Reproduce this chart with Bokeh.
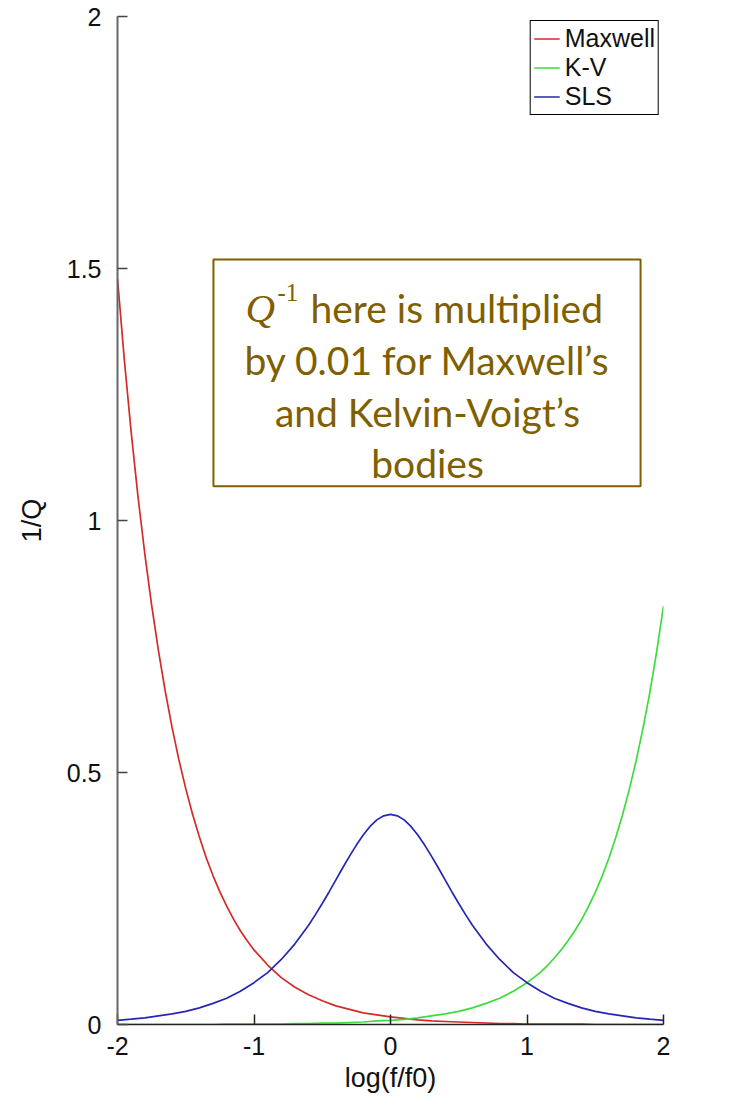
from bokeh.plotting import figure
from bokeh.models import Range1d, FixedTicker, Legend, LegendItem, BoxAnnotation, Label
from bokeh.embed import file_html
from bokeh.resources import INLINE

# ---- data ----
maxwell_x = [-2.0, -1.95, -1.9, -1.85, -1.8, -1.75, -1.7, -1.65, -1.6, -1.55,
             -1.5, -1.45, -1.4, -1.35, -1.3, -1.25, -1.2, -1.15, -1.1, -1.05,
             -1.0, -0.9, -0.8, -0.7, -0.6, -0.5, -0.4, -0.3, -0.2, -0.1,
             0.0, 0.1, 0.2, 0.3, 0.4, 0.5, 0.6, 0.7, 0.8, 0.9,
             1.0, 1.1, 1.2, 1.3, 1.4, 1.5, 1.6, 1.7, 1.8, 1.9, 2.0]
maxwell = [1.480, 1.319, 1.176, 1.048, 0.934, 0.832, 0.742, 0.661, 0.589, 0.525,
           0.468, 0.417, 0.372, 0.331, 0.295, 0.263, 0.235, 0.209, 0.186, 0.166,
           0.148, 0.118, 0.093, 0.074, 0.059, 0.047, 0.037, 0.030, 0.023, 0.019,
           0.015, 0.012, 0.009, 0.007, 0.006, 0.005, 0.004, 0.003, 0.002, 0.002,
           0.001, 0.001, 0.001, 0.001, 0.001, 0.000, 0.000, 0.000, 0.000, 0.000, 0.000]

kv_x = [-2.0, -1.9, -1.8, -1.7, -1.6, -1.5, -1.4, -1.3, -1.2, -1.1,
        -1.0, -0.9, -0.8, -0.7, -0.6, -0.5, -0.4, -0.3, -0.2, -0.1,
        0.0, 0.1, 0.2, 0.3, 0.4, 0.5, 0.6, 0.7, 0.8, 0.9,
        1.0, 1.05, 1.1, 1.15, 1.2, 1.25, 1.3, 1.35, 1.4, 1.45,
        1.5, 1.55, 1.6, 1.65, 1.7, 1.75, 1.8, 1.85, 1.9, 1.95, 2.0]
kelvin_voigt = [0.000, 0.000, 0.000, 0.000, 0.000, 0.000, 0.000, 0.000, 0.001, 0.001,
                0.001, 0.001, 0.001, 0.002, 0.002, 0.003, 0.003, 0.004, 0.005, 0.007,
                0.008, 0.010, 0.013, 0.017, 0.021, 0.026, 0.033, 0.042, 0.052, 0.066,
                0.083, 0.093, 0.104, 0.117, 0.132, 0.148, 0.166, 0.186, 0.208, 0.234,
                0.262, 0.294, 0.330, 0.371, 0.416, 0.467, 0.524, 0.588, 0.659, 0.740, 0.830]

sls_x = [-2.0, -1.9, -1.8, -1.7, -1.6, -1.5, -1.4, -1.3, -1.2, -1.1, -1.0, -0.9, -0.8, -0.7,
         -0.6, -0.55, -0.5, -0.45, -0.4, -0.35, -0.3, -0.25, -0.2, -0.15, -0.1, -0.05,
         0.0, 0.05, 0.1, 0.15, 0.2, 0.25, 0.3, 0.35, 0.4, 0.45, 0.5, 0.55, 0.6,
         0.7, 0.8, 0.9, 1.0, 1.1, 1.2, 1.3, 1.4, 1.5, 1.6, 1.7, 1.8, 1.9, 2.0]
sls = [0.0083, 0.0105, 0.013, 0.017, 0.021, 0.026, 0.033, 0.042, 0.052, 0.066, 0.083, 0.103, 0.129, 0.160,
       0.197, 0.218, 0.240, 0.263, 0.287, 0.311, 0.334, 0.356, 0.376, 0.393, 0.406, 0.414,
       0.417, 0.414, 0.406, 0.393, 0.376, 0.356, 0.334, 0.311, 0.287, 0.263, 0.240, 0.218, 0.197,
       0.160, 0.129, 0.103, 0.083, 0.066, 0.052, 0.042, 0.033, 0.026, 0.021, 0.017, 0.013, 0.0105, 0.0083]

series_names = ["Maxwell", "K-V", "SLS"]
series_colors = ["#d42a2a", "#3ddc3d", "#2626b4"]

x_ticks = [-2, -1, 0, 1, 2]
x_tick_labels = {-2: "-2", -1: "-1", 0: "0", 1: "1", 2: "2"}
y_ticks = [0, 0.5, 1, 1.5, 2]
y_tick_labels = {0: "0", 0.5: "0.5", 1: "1", 1.5: "1.5", 2: "2"}

note_head = ("Q", "-1", "here is multiplied")
note_lines = ["by 0.01 for Maxwell\u2019s", "and Kelvin-Voigt\u2019s", "bodies"]

GOLD = "#7F6000"

p = figure(width=725, height=1100, output_backend="svg", toolbar_location=None,
           x_range=Range1d(-2, 2), y_range=Range1d(0, 2),
           min_border_left=117, min_border_right=62, min_border_top=16, min_border_bottom=76)
p.outline_line_color = None
p.xgrid.visible = False
p.ygrid.visible = False
p.background_fill_color = "white"

renderers = []
for xs, ys, c in zip([maxwell_x, kv_x, sls_x], [maxwell, kelvin_voigt, sls], series_colors):
    renderers.append(p.line(xs, ys, line_color=c, line_width=1.7))

# axes
xa = p.xaxis[0]
xa.ticker = FixedTicker(ticks=x_ticks)
xa.major_label_overrides = x_tick_labels
xa.axis_label = "log(f/f0)"
ya = p.yaxis[0]
ya.ticker = FixedTicker(ticks=y_ticks)
ya.major_label_overrides = y_tick_labels
ya.axis_label = "1/Q"
for ax in (xa, ya):
    ax.major_tick_in = 10
    ax.major_tick_out = 0
    ax.minor_tick_in = 0
    ax.minor_tick_out = 0
    ax.major_label_text_font = "Liberation Sans"
    ax.major_label_text_font_size = "25px"
    ax.major_label_text_color = "#111111"
    ax.axis_label_text_font = "Liberation Sans"
    ax.axis_label_text_font_size = "27px"
    ax.axis_label_text_font_style = "normal"
    ax.axis_label_text_color = "#111111"
xa.axis_line_color = "#222222"
xa.axis_line_width = 1.5
xa.major_tick_line_color = "#222222"
xa.major_tick_line_width = 1.5
xa.major_label_standoff = 12
xa.axis_label_standoff = 5
ya.axis_line_color = "#666666"
ya.axis_line_width = 2
ya.major_tick_line_color = "#444444"
ya.major_tick_line_width = 1.5
ya.major_label_standoff = 16
ya.axis_label_standoff = 17

# legend
legend = Legend(items=[LegendItem(label=n, renderers=[r]) for n, r in zip(series_names, renderers)],
                location="top_right")
legend.label_text_font = "Liberation Sans"
legend.label_text_font_size = "25px"
legend.label_text_color = "#111111"
legend.glyph_width = 26
legend.glyph_height = 29
legend.label_height = 29
legend.label_text_line_height = 1.0
legend.spacing = 0
legend.padding = 3
legend.margin = 4
legend.label_standoff = 5
legend.border_line_color = "black"
legend.border_line_width = 1
legend.border_line_alpha = 1
legend.background_fill_color = "white"
legend.background_fill_alpha = 1
p.add_layout(legend)

# note box (annotation, positions in data units)
box_left, box_right, box_bottom, box_top = -1.297, 1.832, 1.068, 1.518
p.add_layout(BoxAnnotation(left=box_left, right=box_right, bottom=box_bottom, top=box_top,
                           fill_color="white", fill_alpha=1.0,
                           line_color=GOLD, line_alpha=1.0, line_width=2))

note_center_x = 0.271
head_baseline = 1.421
line_baselines = [1.319, 1.216, 1.115]
p.add_layout(Label(x=-1.062, y=head_baseline, text=note_head[0], text_font="Liberation Serif",
                   text_font_style="italic", text_font_size="41px", text_color=GOLD,
                   text_align="left", text_baseline="alphabetic"))
p.add_layout(Label(x=-0.828, y=head_baseline + 0.032, text=note_head[1], text_font="Liberation Serif",
                   text_font_size="25px", text_color=GOLD,
                   text_align="left", text_baseline="alphabetic"))
p.add_layout(Label(x=-0.586, y=head_baseline, text=note_head[2], text_font="Lato",
                   text_font_size="39px", text_color=GOLD,
                   text_align="left", text_baseline="alphabetic"))
for t, yb in zip(note_lines, line_baselines):
    p.add_layout(Label(x=note_center_x, y=yb, text=t, text_font="Lato",
                       text_font_size="39px", text_color=GOLD,
                       text_align="center", text_baseline="alphabetic"))

open("out.html", "w").write(file_html(p, INLINE))
